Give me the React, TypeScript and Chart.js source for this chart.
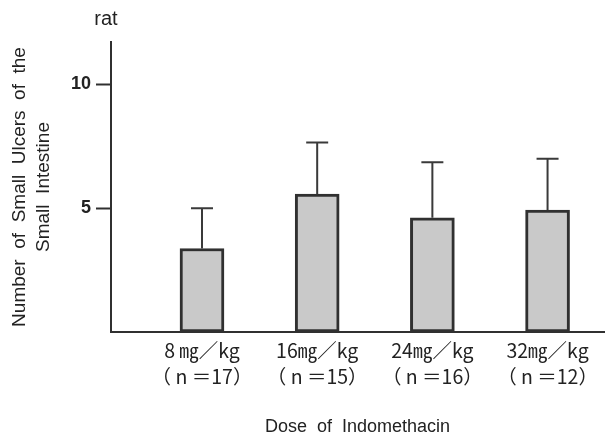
import { useEffect, useRef } from 'react';
import { Chart, registerables } from 'chart.js';

Chart.register(...registerables);

// ---- data ----
const doseLabels = ['8 ㎎／kg', '16㎎／kg', '24㎎／kg', '32㎎／kg'];
const groupSizes = ['（ n ＝17）', '（ n ＝15）', '（ n ＝16）', '（ n ＝12）'];
const meanUlcers = [3.37, 5.56, 4.61, 4.92];
const errorTops = [4.99, 7.65, 6.85, 6.99];
const yTickValues = [5, 10];
const yTitleLines = ['Number  of  Small  Ulcers  of  the', 'Small  Intestine'];
const xTitleText = 'Dose  of  Indomethacin';
const cornerLabel = 'rat';

const FONT = '"Liberation Sans", Arial, sans-serif';
const CJK = '"Noto Sans CJK JP", "Liberation Sans", sans-serif';
const INK = '#222222';

const errorBarPlugin = {
  id: 'errorBars',
  afterDatasetsDraw(chart: any) {
    const meta = chart.getDatasetMeta(0);
    const yScale = chart.scales.y;
    const ctx = chart.ctx;
    ctx.save();
    ctx.strokeStyle = '#3a3a3a';
    ctx.lineWidth = 2;
    meta.data.forEach((bar: any, i: number) => {
      const x = bar.x;
      const yTop = yScale.getPixelForValue(errorTops[i]);
      ctx.beginPath();
      ctx.moveTo(x, bar.y);
      ctx.lineTo(x, yTop);
      ctx.moveTo(x - 11, yTop);
      ctx.lineTo(x + 11, yTop);
      ctx.stroke();
    });
    ctx.restore();
  },
};

const cornerLabelPlugin = {
  id: 'cornerLabel',
  afterDraw(chart: any) {
    const ctx = chart.ctx;
    ctx.save();
    ctx.fillStyle = INK;
    ctx.font = '20px ' + FONT;
    ctx.textAlign = 'center';
    ctx.textBaseline = 'middle';
    ctx.fillText(cornerLabel, chart.chartArea.left - 5, 19);
    ctx.restore();
  },
};

export default function App() {
  const ref = useRef<HTMLCanvasElement>(null);
  useEffect(() => {
    if (!ref.current) return;
    const chart = new Chart(ref.current, {
      type: 'bar',
      data: {
        datasets: [
          {
            data: meanUlcers.map((v, i) => ({ x: i + 1, y: v })),
            backgroundColor: '#c9c9c9',
            borderColor: '#303030',
            borderWidth: 3,
            borderSkipped: false,
            barThickness: 44,
          },
        ],
      },
      options: {
        animation: false,
        responsive: false,
        devicePixelRatio: 1,
        layout: { padding: { top: 42, right: 1, left: 0, bottom: 0 } },
        plugins: { legend: { display: false }, tooltip: { enabled: false } },
        scales: {
          x: {
            type: 'linear',
            offset: false,
            min: 0.21,
            max: 4.49,
            afterBuildTicks: (s: any) => {
              s.ticks = doseLabels.map((_, i) => ({ value: i + 1 }));
            },
            afterFit: (s: any) => {
              s.height = 106;
            },
            grid: { display: false, drawTicks: false },
            border: { display: true, color: '#303030', width: 2 },
            ticks: {
              autoSkip: false,
              maxRotation: 0,
              padding: 6,
              color: INK,
              font: { family: CJK, size: 19.5, lineHeight: 1.33 },
              callback: (v: any) => {
                const i = Math.round(Number(v)) - 1;
                return [doseLabels[i], groupSizes[i]];
              },
            },
            title: {
              display: true,
              text: xTitleText,
              color: INK,
              font: { family: FONT, size: 18, lineHeight: 1.2 },
              padding: { top: 0, bottom: 0 },
            },
          },
          y: {
            min: 0,
            max: 11.7,
            afterBuildTicks: (s: any) => {
              s.ticks = yTickValues.map((v) => ({ value: v }));
            },
            afterFit: (s: any) => {
              s.width = 111;
            },
            grid: {
              drawOnChartArea: false,
              drawTicks: true,
              tickLength: 15,
              tickColor: '#303030',
              tickWidth: 2,
            },
            border: { display: true, color: '#303030', width: 2 },
            ticks: {
              padding: 5,
              color: INK,
              font: { family: FONT, size: 18, weight: 'bold' },
            },
            title: {
              display: true,
              text: yTitleLines,
              color: INK,
              font: { family: FONT, size: 19, lineHeight: 1.26 },
              padding: { top: 8, bottom: 0 },
            },
          },
        },
      },
      plugins: [errorBarPlugin, cornerLabelPlugin],
    });
    return () => chart.destroy();
  }, []);
  return (
    <div style={{ position: 'absolute', left: 0, top: 0, width: 605, height: 438, background: '#fff' }}>
      <canvas ref={ref} width={605} height={438} style={{ display: 'block' }} />
    </div>
  );
}
